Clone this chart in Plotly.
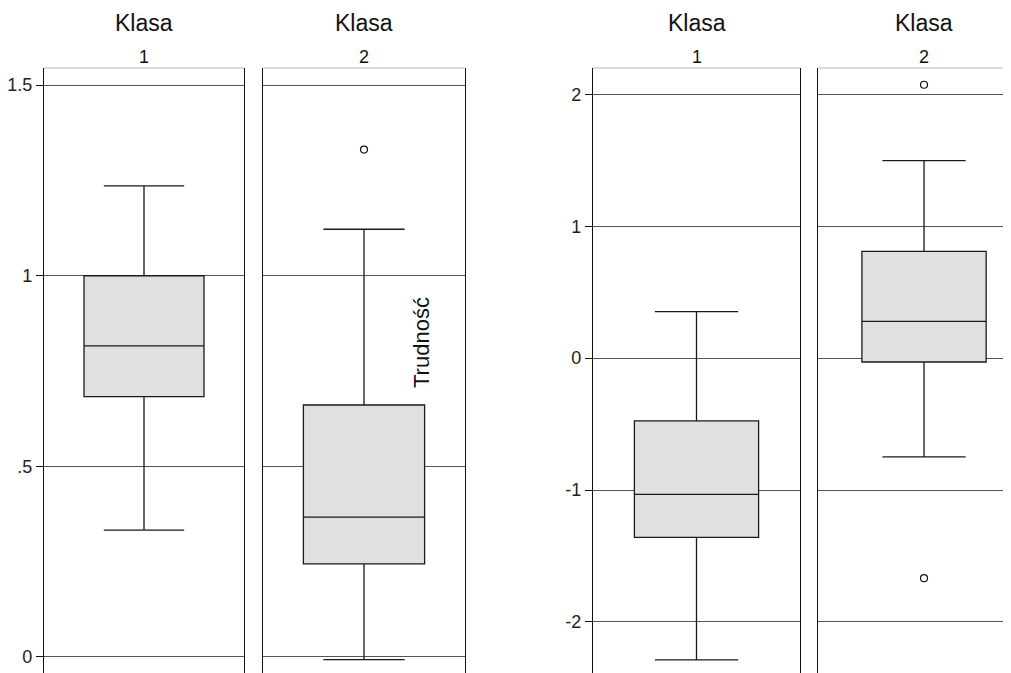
import plotly.graph_objects as go

# ---- data ----
klasy = ["1", "2"]
# left group (values 0..1.5)
left_lower = [0.333, -0.007]
left_q1 = [0.683, 0.244]
left_median = [0.816, 0.367]
left_q3 = [1.000, 0.661]
left_upper = [1.236, 1.122]
left_outliers = [[], [1.331]]
# right group (values -2..2)
right_lower = [-2.288, -0.749]
right_q1 = [-1.358, -0.029]
right_median = [-1.032, 0.279]
right_q3 = [-0.476, 0.809]
right_upper = [0.353, 1.498]
right_outliers = [[], [2.073, -1.668]]

left_ticks = [0, 0.5, 1, 1.5]
left_ticktext = ["0", ".5", "1", "1.5"]
right_ticks = [-2, -1, 0, 1, 2]
right_ticktext = ["-2", "-1", "0", "1", "2"]

FONT = "Liberation Sans, Arial, sans-serif"
BOX_FILL = "#e0e0e0"
BOX_LINE = "#1a1a1a"
GRID = "#555555"

fig = go.Figure()

groups = [
    (left_lower, left_q1, left_median, left_q3, left_upper, left_outliers, ["x", "x2"], ["y", "y2"]),
    (right_lower, right_q1, right_median, right_q3, right_upper, right_outliers, ["x3", "x4"], ["y3", "y4"]),
]

for lo, q1, med, q3, hi, outl, xs, ys in groups:
    for i in range(len(klasy)):
        fig.add_trace(go.Box(
            x=[0], lowerfence=[lo[i]], q1=[q1[i]], median=[med[i]], q3=[q3[i]],
            upperfence=[hi[i]], width=0.6, whiskerwidth=0.67,
            fillcolor=BOX_FILL, line=dict(color=BOX_LINE, width=1.3),
            boxpoints=False, showlegend=False, hoverinfo="skip",
            xaxis=xs[i], yaxis=ys[i],
        ))
        if outl[i]:
            fig.add_trace(go.Scatter(
                x=[0] * len(outl[i]), y=outl[i], mode="markers",
                marker=dict(symbol="circle-open", size=7, color="#111111", line=dict(width=1.2)),
                showlegend=False, hoverinfo="skip", xaxis=xs[i], yaxis=ys[i],
            ))

# page body has an 8px margin; figure coordinates below are offset accordingly
OFF = 8
W, H = 1011 - OFF, 673 - OFF
TOP = 68 - OFF
def px(v):
    return (v - OFF) / W
doms = [[px(44), px(244)], [px(263), px(465)], [px(593), px(800)], [px(818), 1.0]]
xranges = [[-0.5, 0.5], [-0.5, 0.5], [-0.5, 0.5], [-0.512, 0.420]]

layout = dict(
    width=W, height=H, margin=dict(l=0, r=0, t=TOP, b=0),
    paper_bgcolor="white", plot_bgcolor="white",
    font=dict(family=FONT, color="#111111"),
)
for k in range(4):
    name = "xaxis" if k == 0 else f"xaxis{k+1}"
    layout[name] = dict(domain=doms[k], range=xranges[k], showgrid=False, zeroline=False,
                        showticklabels=False, showline=False, ticks="",
                        anchor="y" if k == 0 else f"y{k+1}")

yl = [-0.042, 1.545]
yr = [-2.387, 2.200]
common_y = dict(showgrid=True, gridcolor=GRID, gridwidth=1, zeroline=False,
                showline=True, linecolor="#111111", linewidth=1.4)
layout["yaxis"] = dict(common_y, range=yl, tickvals=left_ticks, ticktext=left_ticktext,
                       ticks="outside", ticklen=7, tickcolor="#111111", mirror=True,
                       tickfont=dict(size=18, family=FONT, color="#222222"), anchor="x")
layout["yaxis2"] = dict(common_y, range=yl, matches="y", tickvals=left_ticks, showticklabels=False,
                        ticks="", mirror=True, anchor="x2")
layout["yaxis3"] = dict(common_y, range=yr, tickvals=right_ticks, ticktext=right_ticktext,
                        ticks="outside", ticklen=7, tickcolor="#111111", mirror=True,
                        tickfont=dict(size=18, family=FONT, color="#222222"), anchor="x3")
layout["yaxis4"] = dict(common_y, range=yr, matches="y3", tickvals=right_ticks, showticklabels=False,
                        ticks="", mirror=False, anchor="x4")

fig.update_layout(**layout)

plot_h = H - TOP
shapes = []
annotations = []
xrefs = ["x", "x2", "x3", "x4"]
for k in range(4):
    shapes.append(dict(type="line", xref=f"{xrefs[k]} domain", yref="paper",
                       x0=0, x1=1, y0=1, y1=1, line=dict(color="#bbbbbb", width=1.2)))
    annotations.append(dict(text="Klasa", xref=xrefs[k], yref="paper", x=0,
                            y=1 + (68 - 23) / plot_h, yanchor="middle", xanchor="center",
                            showarrow=False, font=dict(size=23, family=FONT, color="#111111")))
    annotations.append(dict(text=klasy[k % 2], xref=xrefs[k], yref="paper", x=0,
                            y=1 + (68 - 57) / plot_h, yanchor="middle", xanchor="center",
                            showarrow=False, font=dict(size=18, family=FONT, color="#111111")))

annotations.append(dict(text="Trudność", xref="paper", yref="paper", x=px(421),
                        y=(673 - 343) / plot_h, textangle=-90, xanchor="center", yanchor="middle",
                        showarrow=False, font=dict(size=22, family=FONT, color="#111111")))

fig.update_layout(shapes=shapes, annotations=annotations)

fig.write_html("out.html")
